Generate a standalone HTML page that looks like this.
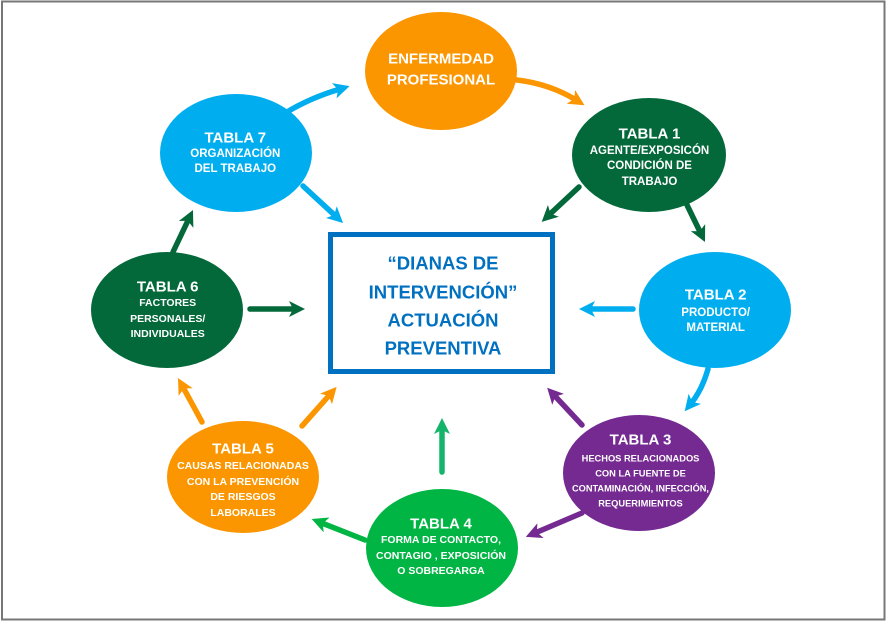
<!DOCTYPE html>
<html><head><meta charset="utf-8"><style>
html,body{margin:0;padding:0;background:#fff;}
svg{display:block;}
text{font-family:"Liberation Sans",Arial,sans-serif;font-weight:bold;text-anchor:middle;}
.w{fill:#fff;}
.t{font-size:15px;}
.b{fill:#0070C0;font-size:18.5px;}
</style></head><body>
<svg width="890" height="625" viewBox="0 0 890 625" xmlns="http://www.w3.org/2000/svg">
<defs>
<marker id="mO" viewBox="0 0 16 16" refX="6" refY="8" markerWidth="16" markerHeight="16" markerUnits="userSpaceOnUse" orient="auto"><path d="M0,0 L16,8 L0,16 L4,8 z" fill="#FB9600"/></marker>
<marker id="mD" viewBox="0 0 16 16" refX="6" refY="8" markerWidth="16" markerHeight="16" markerUnits="userSpaceOnUse" orient="auto"><path d="M0,0 L16,8 L0,16 L4,8 z" fill="#04693A"/></marker>
<marker id="mB" viewBox="0 0 16 16" refX="6" refY="8" markerWidth="16" markerHeight="16" markerUnits="userSpaceOnUse" orient="auto"><path d="M0,0 L16,8 L0,16 L4,8 z" fill="#00AEEF"/></marker>
<marker id="mP" viewBox="0 0 16 16" refX="6" refY="8" markerWidth="16" markerHeight="16" markerUnits="userSpaceOnUse" orient="auto"><path d="M0,0 L16,8 L0,16 L4,8 z" fill="#752A92"/></marker>
<marker id="mG" viewBox="0 0 16 16" refX="6" refY="8" markerWidth="16" markerHeight="16" markerUnits="userSpaceOnUse" orient="auto"><path d="M0,0 L16,8 L0,16 L4,8 z" fill="#00B543"/></marker>
<marker id="mT" viewBox="0 0 16 16" refX="6" refY="8" markerWidth="16" markerHeight="16" markerUnits="userSpaceOnUse" orient="auto"><path d="M0,0 L16,8 L0,16 L4,8 z" fill="#14B46A"/></marker>
</defs>
<rect x="2" y="1.5" width="882.5" height="618" fill="#fff" stroke="#777" stroke-width="2"/>

<g fill="none" stroke-width="5.5" stroke-linecap="round">
<path d="M517,80 Q550,84 576,100" stroke="#FB9600" marker-end="url(#mO)"/>
<path d="M579,187 L549,215" stroke="#04693A" marker-end="url(#mD)"/>
<path d="M687,205 L700.6,233" stroke="#04693A" marker-end="url(#mD)"/>
<path d="M633,309 L589,309" stroke="#00AEEF" marker-end="url(#mB)"/>
<path d="M708,369 Q702,390 691,403.5" stroke="#00AEEF" marker-end="url(#mB)"/>
<path d="M582,425 L554,395" stroke="#752A92" marker-end="url(#mP)"/>
<path d="M582,513 L535,533" stroke="#752A92" marker-end="url(#mP)"/>
<path d="M442,472 L442,428" stroke="#14B46A" marker-end="url(#mT)"/>
<path d="M365,540 L321,522.7" stroke="#00B543" marker-end="url(#mG)"/>
<path d="M302,426 L330,394.4" stroke="#FB9600" marker-end="url(#mO)"/>
<path d="M202,422 L182.8,386.8" stroke="#FB9600" marker-end="url(#mO)"/>
<path d="M173,252 L188.7,219" stroke="#04693A" marker-end="url(#mD)"/>
<path d="M250,309 L295,309" stroke="#04693A" marker-end="url(#mD)"/>
<path d="M303,186 L335.7,216.2" stroke="#00AEEF" marker-end="url(#mB)"/>
<path d="M287,112 Q310,98 340,89" stroke="#00AEEF" marker-end="url(#mB)"/>
</g>

<ellipse cx="441" cy="71" rx="76" ry="59" fill="#FB9600"/>
<ellipse cx="649" cy="155" rx="77" ry="57" fill="#04693A"/>
<ellipse cx="715" cy="310" rx="76" ry="58" fill="#00AEEF"/>
<ellipse cx="639" cy="473" rx="76" ry="58" fill="#752A92"/>
<ellipse cx="442" cy="548" rx="76" ry="59" fill="#00B543"/>
<ellipse cx="243" cy="477" rx="76" ry="56" fill="#FB9600"/>
<ellipse cx="167" cy="310" rx="76" ry="58" fill="#04693A"/>
<ellipse cx="236" cy="153" rx="76" ry="59" fill="#00AEEF"/>

<rect x="330.5" y="234.5" width="222" height="137" fill="#fff" stroke="#0070C0" stroke-width="5"/>

<text class="b" x="443" y="269.6">“DIANAS DE</text>
<text class="b" x="443" y="298.6">INTERVENCIÓN”</text>
<text class="b" x="443" y="326.6">ACTUACIÓN</text>
<text class="b" x="443" y="354.6">PREVENTIVA</text>

<text class="w t" x="441" y="63.6">ENFERMEDAD</text>
<text class="w t" x="441" y="84.4">PROFESIONAL</text>

<text class="w t" x="649.5" y="138.7">TABLA 1</text>
<text class="w" style="font-size:11.5px" x="649.5" y="154.1">AGENTE/EXPOSICÓN</text>
<text class="w" style="font-size:11.5px" x="649.5" y="169.1">CONDICIÓN DE</text>
<text class="w" style="font-size:11.5px" x="649.5" y="184.8">TRABAJO</text>

<text class="w t" x="715.7" y="299.4">TABLA 2</text>
<text class="w" style="font-size:11.5px" x="715.7" y="316">PRODUCTO/</text>
<text class="w" style="font-size:11.5px" x="715.7" y="331">MATERIAL</text>

<text class="w t" x="640.5" y="444.4">TABLA 3</text>
<text class="w" style="font-size:9.3px" x="640.5" y="461.3">HECHOS RELACIONADOS</text>
<text class="w" style="font-size:9.3px" x="640.5" y="476.3">CON LA FUENTE DE</text>
<text class="w" style="font-size:9.3px" x="640.5" y="491.3" textLength="137" lengthAdjust="spacingAndGlyphs">CONTAMINACIÓN, INFECCIÓN,</text>
<text class="w" style="font-size:9.3px" x="640.5" y="506.3">REQUERIMIENTOS</text>

<text class="w t" x="441" y="528.4">TABLA 4</text>
<text class="w" style="font-size:10.5px" x="441" y="542.8">FORMA DE CONTACTO,</text>
<text class="w" style="font-size:10.5px" x="441" y="558.8">CONTAGIO , EXPOSICIÓN</text>
<text class="w" style="font-size:10.5px" x="441" y="573.8">O SOBREGARGA</text>

<text class="w t" x="243" y="453.4">TABLA 5</text>
<text class="w" style="font-size:10.5px" x="243" y="468.8">CAUSAS RELACIONADAS</text>
<text class="w" style="font-size:10.5px" x="243" y="484.8">CON LA PREVENCIÓN</text>
<text class="w" style="font-size:10.5px" x="243" y="499.8">DE RIESGOS</text>
<text class="w" style="font-size:10.5px" x="243" y="515.8">LABORALES</text>

<text class="w t" x="167.7" y="291.4">TABLA 6</text>
<text class="w" style="font-size:10.5px" x="167.7" y="305.8">FACTORES</text>
<text class="w" style="font-size:10.5px" x="167.7" y="321.8">PERSONALES/</text>
<text class="w" style="font-size:10.5px" x="167.7" y="336.8">INDIVIDUALES</text>

<text class="w t" x="235.3" y="142.4">TABLA 7</text>
<text class="w" style="font-size:11.5px" x="235.3" y="157.1">ORGANIZACIÓN</text>
<text class="w" style="font-size:11.5px" x="235.3" y="172.1">DEL TRABAJO</text>
</svg>
</body></html>
